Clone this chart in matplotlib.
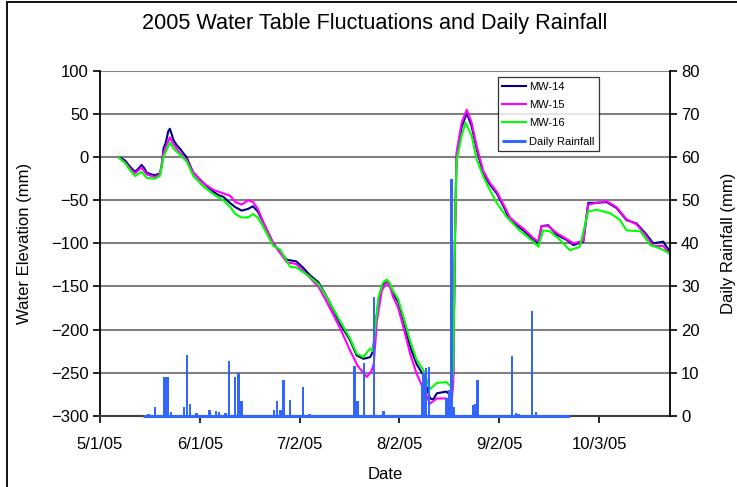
import numpy as np
import pandas as pd
import matplotlib
matplotlib.use("Agg")
import matplotlib.pyplot as plt
from matplotlib.patches import Rectangle

plt.rcParams['font.family'] = ['Liberation Sans', 'DejaVu Sans']

START = pd.Timestamp("2005-05-01")
END = pd.Timestamp("2005-10-25")

# ---- data (day offset from 5/1/05, value) ----
mw14_days = [5.7, 6.5, 7.8, 9.3, 10.9, 12.0, 12.9, 13.8, 14.5, 16, 17, 18.6, 19.2, 19.7, 20.5, 21.2, 21.7,
             22.3, 22.8, 23.8, 24.8, 25.8, 26.9, 28, 29, 30.5, 32.1, 33.6, 35.2, 36.8, 38.3, 40, 42, 44, 46,
             47.5, 49, 51, 53.8, 55.5, 58, 61, 63, 65.2, 67.8, 70.4, 72.5, 74.5, 77.6, 79.7, 81.8, 83.9, 84.8,
             85.4, 86.5, 87.8, 89, 90, 91, 92.6, 94.2, 96.3, 98.3, 100.4, 101.5, 102.5, 103.5, 104.6, 107.6,
             109.2, 109.7, 110.2, 110.7, 112.3, 113.9, 115.4, 117, 119, 121.1, 123.2, 125.3, 127.3, 129.4,
             131.5, 134.6, 136.1, 137.1, 139.2, 141.8, 144.9, 147, 150.1, 151.6, 154.2, 157.3, 160.4, 163.5,
             166.6, 169.3, 171.8, 174.9, 177]
mw14_vals = [0, -1, -4, -11, -17, -13, -9, -13, -18, -20, -21, -19, -10, 10, 18, 30, 33,
             26, 20, 14, 10, 5, 0, -10, -18, -24, -30, -35, -40, -44, -46, -52, -58, -62, -60,
             -57, -63, -78, -100, -108, -119, -121, -128, -137, -145, -162, -178, -193, -212, -230, -234, -232, -225,
             -200, -165, -148, -143, -148, -158, -168, -189, -220, -240, -253, -268, -280, -281, -274, -272,
             -278, -250, -100, 0, 35, 51, 36, 9, -19, -32, -42, -57, -73, -79,
             -85, -96, -100, -80, -79, -90, -96, -102, -98, -53, -53, -52, -59, -73,
             -77, -88, -100, -98, -110]

mw15_days = [5.7, 7.8, 9.3, 10.9, 12.9, 14.5, 17, 18.6, 19.7, 21.7, 22.8, 24.8, 26.9, 29, 32.1, 35.2, 38.3,
             40.5, 42, 44, 46, 47.5, 49, 51, 53.8, 58, 61, 65.2, 67.8, 70.4, 74.5, 77.6, 80, 82.8, 84.2, 85,
             86, 87.5, 89, 90, 91, 92.6, 94.2, 96.3, 98.3, 100.4, 102.5, 104.6, 107.6, 109.2, 109.7, 110.2,
             110.7, 112.3, 113.9, 115.4, 117, 119, 121.1, 123.2, 125.3, 127.3, 129.4, 131.5, 134.6, 136.1,
             137.1, 139.2, 141.8, 144.9, 147, 150.1, 151.6, 154.2, 157.3, 160.4, 163.5, 166.6, 169.3, 171.8,
             174.9, 177]
mw15_vals = [0, -6, -13, -19, -12, -20, -23, -20, 5, 23, 15, 5, -3, -18, -30, -38, -42,
             -45, -52, -55, -50, -52, -60, -78, -100, -122, -124, -140, -150, -168, -198, -224, -242, -255, -249, -240,
             -190, -155, -145, -150, -162, -175, -197, -228, -251, -269, -286, -280, -280, -285, -260, -100,
             5, 40, 55, 40, 12, -16, -30, -40, -55, -70, -77, -83, -94, -98,
             -80, -80, -88, -95, -100, -97, -55, -53, -51, -58, -72, -78, -90, -103,
             -103, -113]

mw16_days = [5.7, 7.8, 9.3, 10.9, 12.9, 14.5, 17, 18.6, 19.7, 21.7, 22.8, 24.8, 26.9, 29, 32.1, 35.2, 38.3,
             40.5, 42, 44, 46, 47.5, 49, 51, 53.8, 55.9, 59, 61, 65.2, 67.8, 70.4, 74.5, 77.6, 79.7, 81.8, 83,
             84, 84.8, 85.4, 86.5, 87.8, 89, 90, 91, 92.6, 94.2, 96.3, 98.3, 100.4, 102.5, 104.6, 107.6, 109.2,
             109.7, 110.2, 110.7, 112.3, 113.5, 115.4, 117, 119, 120.5, 123.2, 126.2, 130.3, 134.6, 136.1,
             137.6, 139.7, 142.8, 145.9, 149, 151.6, 154.2, 158.4, 161.5, 163.5, 167.8, 170.9, 174, 177]
mw16_vals = [0, -7, -15, -22, -17, -24, -25, -22, 0, 17, 10, 3, -5, -22, -34, -43, -50,
             -58, -66, -70, -70, -66, -70, -83, -103, -107, -127, -128, -139, -147, -162, -190, -210, -228, -232, -226,
             -222, -225, -200, -162, -146, -142, -146, -155, -165, -185, -213, -235, -247, -269, -262, -261, -267,
             -240, -100, -5, 25, 40, 25, -3, -22, -34, -53, -69, -85, -98, -104,
             -85, -86, -96, -108, -104, -63, -61, -65, -73, -85, -86, -102, -106, -112]

rain_days = [15, 17, 20, 21, 22, 26, 27, 28, 30, 34, 36, 37, 39, 40, 42, 43, 44, 54, 55, 56, 57, 59, 63, 65,
             79, 80, 82, 85, 88, 99.9, 100.5, 101.2, 102.2, 107.6, 108.4, 109.2, 110, 116, 116.5, 117.2,
             128, 129.2, 130, 134.2, 135.3]
rain_vals = [0.3, 2, 9, 9, 0.9, 2, 14, 2.6, 0.7, 1.3, 1.2, 0.8, 0.6, 12.6, 9, 10, 3.3, 1.3, 3.3, 1.3, 8.3, 3.7, 6.6, 0.3,
             11.6, 3.3, 12.2, 27.5, 1.2, 7.5, 9.9, 11, 11.4, 4, 6, 55, 2, 2.5, 2.7, 8.3,
             13.9, 0.7, 0.4, 24.4, 0.9]
rain_period = [13.5, 146]

tick_dates = ["2005-05-01", "2005-06-01", "2005-07-02", "2005-08-02", "2005-09-02", "2005-10-03"]
tick_labels = ["5/1/05", "6/1/05", "7/2/05", "8/2/05", "9/2/05", "10/3/05"]


def to_dates(days):
    return [START + pd.Timedelta(days=float(d)) for d in days]


fig = plt.figure(figsize=(7.37, 4.87), dpi=100)
fig.patch.set_facecolor('white')
fig.patches.append(Rectangle((7 / 737, -0.1), 1.2, 1 - 2 / 487 + 0.1, transform=fig.transFigure,
                             fill=False, edgecolor='black', linewidth=1.3))

ax = fig.add_axes([100 / 737, (487 - 415.7) / 487, 570 / 737, 344.7 / 487])
ax2 = ax.twinx()

ax.plot(to_dates(mw14_days), mw14_vals, color='#000080', lw=1.5, label='MW-14')
ax.plot(to_dates(mw15_days), mw15_vals, color='#FF00FF', lw=1.5, label='MW-15')
ax.plot(to_dates(mw16_days), mw16_vals, color='#00FF00', lw=1.5, label='MW-16')

rain_color = '#3366FF'
ax2.bar(to_dates(rain_days), rain_vals, width=0.75, color=rain_color, align='center', linewidth=0)
rain_line, = ax2.plot(to_dates(rain_period), [0, 0], color=rain_color, lw=2.2, label='Daily Rainfall',
                      solid_capstyle='butt', clip_on=False, zorder=5)

ax.set_xlim(START, END)
ax.set_ylim(-300, 100)
ax.set_yticks(np.arange(-300, 101, 50))
ax2.set_ylim(0, 80)
ax2.set_yticks(np.arange(0, 81, 10))

ax.set_xticks(pd.to_datetime(tick_dates))
ax.set_xticklabels(tick_labels)

ax.yaxis.grid(True, color='#808080', lw=1.5)
ax.set_axisbelow(True)

for a in (ax, ax2):
    a.spines['top'].set_visible(False)
    a.tick_params(labelsize=12, length=5, width=1.2, direction='out', pad=3)
ax.spines['left'].set_linewidth(1.3)
ax.spines['left'].set_color('black')
ax2.spines['right'].set_linewidth(1.3)
ax2.spines['right'].set_color('black')
ax.spines['right'].set_visible(False)
ax2.spines['left'].set_visible(False)
ax.spines['bottom'].set_color('#404040')
ax.spines['bottom'].set_linewidth(1.5)
ax2.spines['bottom'].set_visible(False)
ax.tick_params(axis='x', pad=10)

ax.set_ylabel('Water Elevation (mm)', fontsize=12, labelpad=14)
ax2.set_ylabel('Daily Rainfall (mm)', fontsize=12, rotation=90, labelpad=15)
ax.set_xlabel('Date', fontsize=12, labelpad=11)
fig.text(0.509, 0.952, '2005 Water Table Fluctuations and Daily Rainfall', ha='center', va='center', fontsize=15.6)

handles = ax.get_lines() + [rain_line]
leg = ax2.legend(handles=handles, labels=[h.get_label() for h in handles], loc='upper left',
                 bbox_to_anchor=(0.698, 0.982), borderaxespad=0, fontsize=8, frameon=True,
                 fancybox=False, edgecolor='black', handlelength=2.1, handletextpad=0.3,
                 labelspacing=0.75, borderpad=0.4)
leg.get_frame().set_linewidth(0.9)

fig.savefig('out.png', dpi=100)
